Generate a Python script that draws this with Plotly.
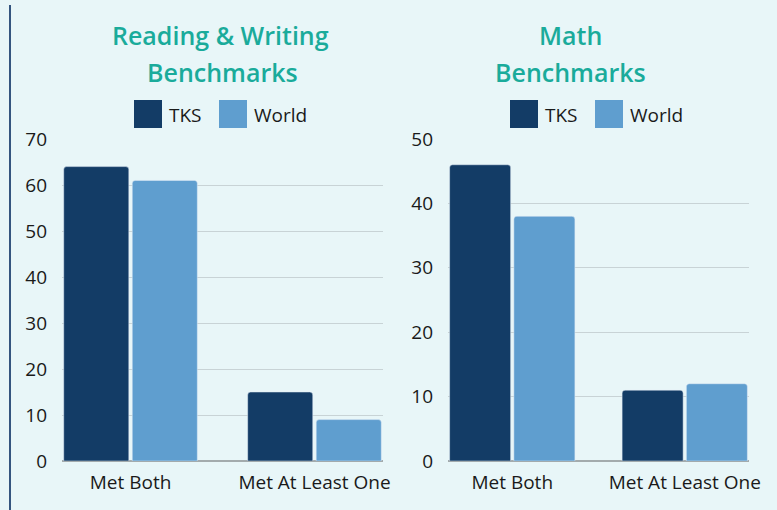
import plotly.graph_objects as go
from plotly.subplots import make_subplots

categories = ["Met Both", "Met At Least One"]
reading_tks = [64, 15]
reading_world = [61, 9]
math_tks = [46, 11]
math_world = [38, 12]
series_names = ["TKS", "World"]

COLOR_TKS = "#133c66"
COLOR_WORLD = "#5f9ecf"
COLOR_TITLE = "#1aab9b"
COLOR_BG = "#e8f6f8"
FONT = "Open Sans"

fig = make_subplots(rows=1, cols=2)

panels = [
    (1, reading_tks, reading_world),
    (2, math_tks, math_world),
]
for col, tks, world in panels:
    fig.add_trace(go.Bar(x=categories, y=tks, name=series_names[0],
                         marker=dict(color=COLOR_TKS), showlegend=False), row=1, col=col)
    fig.add_trace(go.Bar(x=categories, y=world, name=series_names[1],
                         marker=dict(color=COLOR_WORLD), showlegend=False), row=1, col=col)

W, H = 777, 510

def px_x(v):
    return v / W

def px_y(v):
    return 1 - v / H

fig.update_layout(
    width=W, height=H,
    margin=dict(l=0, r=0, t=0, b=0),
    paper_bgcolor=COLOR_BG,
    plot_bgcolor=COLOR_BG,
    font=dict(family=FONT, size=19, color="#1a1a1a"),
    barmode="group",
    bargap=0.255,
    bargroupgap=0.05,
    barcornerradius=3,
    showlegend=False,
)

fig.update_xaxes(showgrid=False, zeroline=False, showline=False, automargin=False,
                 range=[-0.3725, 1.3725], ticks="", ticklabelstandoff=8,
                 tickfont=dict(size=19))
fig.update_yaxes(showgrid=True, gridcolor="#c8d3d6", gridwidth=1, zeroline=True,
                 zerolinecolor="#a3abad", zerolinewidth=2, showline=False,
                 automargin=False, ticks="", ticklabelstandoff=14, tickfont=dict(size=19))

fig.update_layout(
    xaxis=dict(domain=[px_x(62), px_x(383)]),
    xaxis2=dict(domain=[px_x(448), px_x(749)]),
    yaxis=dict(domain=[px_y(461), px_y(139)], range=[0, 70], dtick=10),
    yaxis2=dict(domain=[px_y(461), px_y(139)], range=[0, 50], dtick=10),
)

# left accent line
fig.add_shape(type="line", xref="paper", yref="paper",
              x0=px_x(10), x1=px_x(10), y0=px_y(5), y1=0,
              line=dict(color="#34557f", width=2))

# titles, one annotation per line for the wider line spacing
titles = [
    ("Reading &amp; Writing", 220, 35), ("Benchmarks", 222, 72),
    ("Math", 570, 35), ("Benchmarks", 570, 72),
]
for text, cx, cy in titles:
    fig.add_annotation(text=text, xref="paper", yref="paper",
                       x=px_x(cx), y=px_y(cy), xanchor="center", yanchor="middle",
                       showarrow=False,
                       font=dict(family=FONT, size=25, weight=600, color=COLOR_TITLE))

# legends: big squares + labels
legend_items = [
    (134, COLOR_TKS, series_names[0]), (219, COLOR_WORLD, series_names[1]),
    (510, COLOR_TKS, series_names[0]), (595, COLOR_WORLD, series_names[1]),
]
for x0, color, label in legend_items:
    fig.add_shape(type="rect", xref="paper", yref="paper",
                  x0=px_x(x0), x1=px_x(x0 + 28), y0=px_y(128), y1=px_y(100),
                  fillcolor=color, line=dict(width=0))
    fig.add_annotation(text=label, xref="paper", yref="paper",
                       x=px_x(x0 + 33), y=px_y(115), xanchor="left", yanchor="middle",
                       showarrow=False, font=dict(family=FONT, size=19, color="#1a1a1a"))

fig.write_html("out.html", config={"displayModeBar": False},
               post_script="document.body.style.margin='0';")
